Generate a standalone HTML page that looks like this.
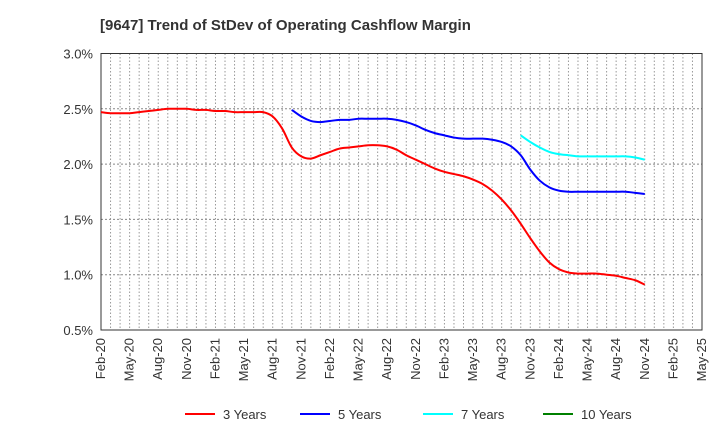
<!DOCTYPE html>
<html><head><meta charset="utf-8"><style>
body{margin:0;background:#fff;}
svg text{font-family:"Liberation Sans",Arial,sans-serif;fill:#333;}
</style></head><body>
<svg id="c" width="720" height="440" xmlns="http://www.w3.org/2000/svg">
<text x="100" y="30" font-size="15" font-weight="bold">[9647]  Trend of StDev of Operating Cashflow Margin</text>
<g id="grid"></g><g id="axes"></g><g id="series"></g><g id="legend"></g>
</svg>
<script>
const startYear=2020, startMonth=1; // Feb
const nMonths=63;
const yTicks=[0.5,1.0,1.5,2.0,2.5,3.0];
const red3=[2.47,2.46,2.46,2.46,2.47,2.48,2.49,2.50,2.50,2.50,2.49,2.49,2.48,2.48,2.47,2.47,2.47,2.47,2.43,2.32,2.15,2.07,2.05,2.08,2.11,2.14,2.15,2.16,2.17,2.17,2.16,2.13,2.08,2.04,2.00,1.96,1.93,1.91,1.89,1.86,1.82,1.76,1.68,1.58,1.46,1.33,1.21,1.11,1.05,1.02,1.01,1.01,1.01,1.00,0.99,0.97,0.95,0.91];
const blue5=[2.49,2.43,2.39,2.38,2.39,2.40,2.40,2.41,2.41,2.41,2.41,2.40,2.38,2.35,2.31,2.28,2.26,2.24,2.23,2.23,2.23,2.22,2.20,2.16,2.08,1.95,1.85,1.79,1.76,1.75,1.75,1.75,1.75,1.75,1.75,1.75,1.74,1.73];
const cyan7=[2.26,2.20,2.15,2.11,2.09,2.08,2.07,2.07,2.07,2.07,2.07,2.07,2.06,2.04];
const seriesStart=[0,20,44];
const seriesNames=["3 Years","5 Years","7 Years","10 Years"];
const seriesColors=["#ff0000","#0000ff","#00ffff","#008000"];
const L=101,R=702,T=53.5,B=330;
const mNames=["Jan","Feb","Mar","Apr","May","Jun","Jul","Aug","Sep","Oct","Nov","Dec"];
const xS=m=>L+m*(R-L)/nMonths;
const yS=v=>B-(v-0.5)/2.5*(B-T);
const NS="http://www.w3.org/2000/svg";
function mk(tag,attrs,parent){const e=document.createElementNS(NS,tag);for(const k in attrs)e.setAttribute(k,attrs[k]);parent.appendChild(e);return e;}
const grid=document.getElementById('grid'),axes=document.getElementById('axes'),ser=document.getElementById('series'),leg=document.getElementById('legend');
for(let m=1;m<nMonths;m++){const l=mk('line',{x1:xS(m),x2:xS(m),y1:T,y2:B,stroke:'#999','stroke-dasharray':'1.5,2','stroke-width':1},grid);

}
yTicks.forEach(v=>{if(v>0.5&&v<3.0){const l=mk('line',{x1:L,x2:R,y1:yS(v),y2:yS(v),stroke:'#888','stroke-dasharray':'2,2','stroke-width':1},grid);

}
const t=mk('text',{x:L-8,y:yS(v)+5,'text-anchor':'end','font-size':13},axes);t.textContent=v.toFixed(1)+'%';

});
const fr=mk('rect',{x:L,y:T,width:R-L,height:B-T,fill:'none',stroke:'#333','stroke-width':1},axes);


for(let m=0;m<=nMonths;m+=3){const mo=(startMonth+m)%12,yr=startYear+Math.floor((startMonth+m)/12);
const x=xS(m)+4,y=B+8;const t=mk('text',{x:x,y:y,'text-anchor':'end','font-size':13,transform:`rotate(-90 ${x} ${y})`},axes);
t.textContent=mNames[mo]+'-'+String(yr%100).padStart(2,'0');

}
function path(pts){let d=`M${pts[0][0]},${pts[0][1]}`;for(let i=0;i<pts.length-1;i++){const p0=pts[i-1]||pts[i],p1=pts[i],p2=pts[i+1],p3=pts[i+2]||p2;
d+=` C${p1[0]+(p2[0]-p0[0])/6},${p1[1]+(p2[1]-p0[1])/6} ${p2[0]-(p3[0]-p1[0])/6},${p2[1]-(p3[1]-p1[1])/6} ${p2[0]},${p2[1]}`;}return d;}
[red3,blue5,cyan7].forEach((s,i)=>{const pts=s.map((v,j)=>[xS(seriesStart[i]+j),yS(v)]);
const p=mk('path',{d:path(pts),fill:'none',stroke:seriesColors[i],'stroke-width':2},ser);

});
const lx=[185,300,423,543];
seriesNames.forEach((n,i)=>{const g=mk('g',{},leg);


mk('line',{x1:lx[i],x2:lx[i]+30,y1:414,y2:414,stroke:seriesColors[i],'stroke-width':2},g);
const t=mk('text',{x:lx[i]+38,y:419,'font-size':13},g);t.textContent=n;});
</script>
</body></html>
